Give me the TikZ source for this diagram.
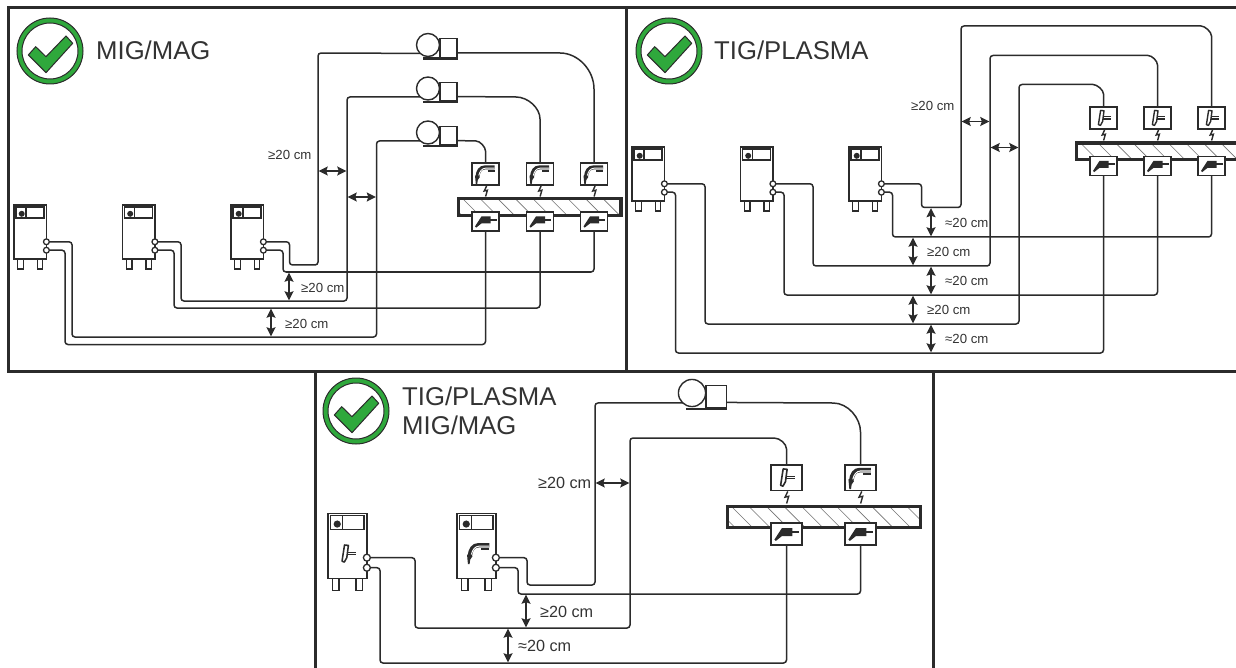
\documentclass[tikz,border=0pt]{standalone}
\usepackage{fontspec}
\setmainfont{Liberation Sans}
\usetikzlibrary{arrows.meta}
\definecolor{ink}{HTML}{2B2B2B}
\definecolor{okgreen}{HTML}{2FA83C}
\definecolor{txt}{HTML}{333333}
\tikzset{
  panelframe/.style={draw=ink,line width=3pt},
  cable/.style={draw=ink,line width=1.5pt,rounded corners=3pt},
  gap/.style={draw=ink,line width=1.8pt,{Stealth[length=9pt,width=9pt,inset=1.5pt]}-{Stealth[length=9pt,width=9pt,inset=1.5pt]}},
  box/.style={draw=ink,fill=white,inner sep=0pt,outer sep=0pt,line width=1.6pt},
  smalllabel/.style={text=txt,inner sep=0pt,anchor=west,font=\fontsize{13.2}{15}\selectfont},
  biglabel/.style={text=txt,inner sep=0pt,anchor=west,font=\fontsize{16.2}{18}\selectfont},
  titlelabel/.style={text=txt,inner sep=0pt,anchor=base west,font=\fontsize{25.7}{30}\selectfont},
}
% check badge
\newcommand\okbadge[3]{%
  \begin{scope}[shift={(#1,#2)}]
    \node[circle,draw=ink,fill=okgreen,line width=1pt,minimum size=66pt,inner sep=0pt] (#3) at (0,0) {};
    \node[circle,draw=ink,fill=white,line width=1pt,minimum size=56pt,inner sep=0pt] at (0,0) {};
    \draw[draw=ink,fill=okgreen,line width=1pt,line join=round] (-21.7,4) -- (-4,21.7) -- (22.7,-7.7) -- (16,-15) -- (-4,5.7) -- (-14.3,-4.3) -- cycle;
  \end{scope}}
% MIG torch icon, origin = top-left of a 27x22 cell
\newcommand\migicon[1]{%
  \draw[ink,line width={4pt*#1},line cap=butt] (22.5,4.4) -- (13,4.4) .. controls (8.5,4.4) and (6,8) .. (5.4,14);
  \draw[white,line width={0.9pt*#1}] (22.7,5.2) -- (13.4,5.2) .. controls (10,5.4) and (7.8,8.2) .. (6.8,12.5);
  \fill[ink] (3,12.5) -- (7.8,14) -- (5.8,17) -- (5.2,21) -- (3.8,21) -- cycle;
  \draw[ink,line width={1.8pt*#1}] (15.5,8) -- (22.7,8);}
% TIG torch icon
\newcommand\tigicon[1]{%
  \draw[ink,line width={1.4pt*#1},line join=round,fill=white] (10.6,3.4) -- (14,3.8) -- (12.6,14.5) -- (10.4,18.4) -- (8.4,17.6) -- cycle;
  \draw[ink,line width={1.2pt*#1}] (13,9.8) -- (21,9.8);
  \draw[ink,line width={1.2pt*#1}] (13,12) -- (21,12);}
% welding machine: name, left, top, scale, extra icon
\newcommand\welder[5]{%
  \begin{scope}[shift={(#2,#3)},scale=#4]
    \draw[ink,line width=1.4pt,fill=white] (3.7,54) rectangle (9.3,64);
    \draw[ink,line width=1.4pt,fill=white] (23.3,54) rectangle (28.7,64);
    \node[box,minimum width={32.5pt*#4},minimum height={54pt*#4}] (#1) at (16.25,27) {};
    \draw[ink,line width=1.6pt] (2,1.8) rectangle (30,13.2);
    \draw[ink,line width=1.6pt] (12,1.8) -- (12,13.2);
    \fill[ink] (7.7,8.8) circle (3);
    #5
    \node[circle,box,line width=1.3pt,minimum size={5.8pt*#4}] (#1u) at (32.4,36.8) {};
    \node[circle,box,line width=1.3pt,minimum size={5.8pt*#4}] (#1l) at (32.4,45.2) {};
  \end{scope}}
% wire feeder: name, circle centre x, y, scale
\newcommand\feeder[4]{%
  \begin{scope}[shift={(#2,#3)},scale=#4]
    \draw[ink,line width=2.8pt] (-5,13.5) -- (29.5,13.5);
    \node[circle,box,line width=1.4pt,minimum size={23pt*#4}] (#1c) at (0,0) {};
    \node[box,line width=1.4pt,minimum width={17pt*#4},minimum height={18.5pt*#4}] (#1b) at (20.5,3) {};
    \coordinate (#1o) at (29,8);
  \end{scope}}
% torch box: name, centre x, top, scale, icon
\newcommand\torchbox[5]{%
  \begin{scope}[shift={(#2-13.5*#4,#3)},scale=#4]
    \node[box,minimum width={27pt*#4},minimum height={22pt*#4}] (#1) at (13.5,11) {};
    #5
    \draw[ink,line width=1.4pt,line join=miter] (14.6,23) -- (12.2,28) -- (15.4,27.2) -- (13.6,33.5);
  \end{scope}}
% clamp box: name, centre x, top, scale
\newcommand\clampbox[4]{%
  \begin{scope}[shift={(#2-13.5*#4,#3)},scale=#4]
    \node[box,minimum width={27pt*#4},minimum height={19pt*#4}] (#1) at (13.5,9.5) {};
    \fill[ink] (9.5,4.4) -- (18.5,4.4) -- (18.5,11.4) -- (9.5,11.4) -- (4.2,15.6) -- (3,14.4) -- cycle;
    \draw[ink,line width={1.9pt*#4}] (18,7.6) -- (24.5,7.6);
  \end{scope}}
% workpiece bar: name, x1, y1, x2, y2
\newcommand\workbar[5]{%
  \node[draw=ink,line width=3.4pt,fill=white,inner sep=0pt,outer sep=0pt,anchor=north west,minimum width={(#4-#2)*1pt},minimum height={(#5-#3)*1pt}] (#1) at (#2,#3) {};
  \begin{scope}
    \clip (#2,#3) rectangle (#4,#5);
    \foreach \k in {-2,...,14} {
      \draw[black!55,line width=0.6pt] ({#2+\k*17.55+4},#3) -- ++(30,30);
    }
  \end{scope}
  \draw[ink,line width=3.4pt] (#2,#3) rectangle (#4,#5);}
% spacing arrow between two named ends
\newcommand\gaparrow[5]{%
  \coordinate (#1a) at (#2,#3);
  \coordinate (#1b) at (#4,#5);
  \draw[gap] (#1a) -- (#1b);}
\begin{document}
\begin{tikzpicture}[x=1pt,y=-1pt]
\useasboundingbox (0,0) rectangle (1236,668);
\clip (0,0) rectangle (1236,668);

% ---------- panel frames
\draw[panelframe] (8.5,8) rectangle (626,371);
\draw[panelframe] (626,8) rectangle (1245,371);
\draw[panelframe] (315.5,371) rectangle (933.5,690);

% ---------- panel 1: MIG/MAG
\okbadge{50}{51}{okA}
\node[titlelabel] (titleA) at (96,60) {MIG/MAG};
\welder{wa}{14}{205}{1}{}
\welder{wb}{122.5}{205}{1}{}
\welder{wc}{231}{205}{1}{}
\feeder{fa}{428}{45}{1}
\feeder{fb}{428}{88.5}{1}
\feeder{fc}{428}{132.5}{1}
\workbar{barA}{458.5}{198.5}{621}{215.5}
\torchbox{ta}{485.5}{163}{1}{\migicon{1}}
\torchbox{tb}{540}{163}{1}{\migicon{1}}
\torchbox{tc}{594}{163}{1}{\migicon{1}}
\clampbox{ca}{485.5}{212}{1}
\clampbox{cb}{540}{212}{1}
\clampbox{cc}{594}{212}{1}

\draw[cable] (wau.east) -- (72,241.8) -- (72,337) -- (376.5,337) -- (376.5,141) -- (fcc.227);
\draw[cable] (wal.east) -- (65,250.2) -- (65,344.5) -- (485.5,344.5) -- (ca.south);
\draw[cable] (wbu.east) -- (181,241.8) -- (181,301) -- (347,301) -- (347,97) -- (fbc.227);
\draw[cable] (wbl.east) -- (174,250.2) -- (174,308) -- (540,308) -- (cb.south);
\draw[cable] (wcu.east) -- (289.5,241.8) -- (289.5,265) -- (318,265) -- (318,53) -- (fac.227);
\draw[cable] (wcl.east) -- (283,250.2) -- (283,272) -- (594,272) -- (cc.south);
\draw[cable] (fao) -- (557,53) .. controls (578,53) and (594,70) .. (594,92) -- (tc.north);
\draw[cable] (fbo) -- (513,97) .. controls (528,97) and (540,108) .. (540,122) -- (tb.north);
\draw[cable] (fco) -- (473,141) .. controls (480,141) and (485.5,147) .. (485.5,154) -- (ta.north);

\gaparrow{ha}{318.7}{171}{346.3}{171}
\gaparrow{hb}{347.7}{197}{375.8}{197}
\gaparrow{va}{289}{272.7}{289}{300.3}
\gaparrow{vb}{271}{308.7}{271}{336.3}
\node[smalllabel] (la) at (268,155) {≥20 cm};
\node[smalllabel] (lb) at (301,288) {≥20 cm};
\node[smalllabel] (lc) at (285,324) {≥20 cm};

% ---------- panel 2: TIG/PLASMA
\okbadge{669}{51}{okB}
\node[titlelabel] (titleB) at (714,60) {TIG/PLASMA};
\welder{wd}{632}{147}{1}{}
\welder{we}{740.5}{147}{1}{}
\welder{wf}{849}{147}{1}{}
\workbar{barB}{1076.5}{143}{1250}{159.5}
\torchbox{td}{1103.5}{107}{1}{\tigicon{1}}
\torchbox{te}{1157.5}{107}{1}{\tigicon{1}}
\torchbox{tf}{1211.5}{107}{1}{\tigicon{1}}
\clampbox{cd}{1103.5}{156.5}{1}
\clampbox{ce}{1157.5}{156.5}{1}
\clampbox{cf}{1211.5}{156.5}{1}

\draw[cable] (wdu.east) -- (705,183.8) -- (705,324) -- (1019,324) -- (1019,84.5) -- (1090,84.5) .. controls (1097,84.5) and (1103.5,90) .. (1103.5,97) -- (td.north);
\draw[cable] (wdl.east) -- (675.5,192.2) -- (675.5,353) -- (1103.5,353) -- (cd.south);
\draw[cable] (weu.east) -- (813,183.8) -- (813,266) -- (990,266) -- (990,55.5) -- (1145,55.5) .. controls (1152,55.5) and (1157.5,61) .. (1157.5,68) -- (te.north);
\draw[cable] (wel.east) -- (784,192.2) -- (784,295) -- (1157.5,295) -- (ce.south);
\draw[cable] (wfu.east) -- (921.5,183.8) -- (921.5,207.5) -- (961,207.5) -- (961,26) -- (1198,26) .. controls (1205,26) and (1211.5,32) .. (1211.5,39) -- (tf.north);
\draw[cable] (wfl.east) -- (892.5,192.2) -- (892.5,237) -- (1211.5,237) -- (cf.south);

\gaparrow{hc}{961.7}{121.5}{989.3}{121.5}
\gaparrow{hd}{990.7}{147.5}{1018.3}{147.5}
\gaparrow{vc}{931}{208.2}{931}{236.3}
\gaparrow{vd}{913}{237.7}{913}{265.3}
\gaparrow{ve}{931}{266.7}{931}{294.3}
\gaparrow{vf}{913}{295.7}{913}{323.3}
\gaparrow{vg}{931}{324.7}{931}{352.3}
\node[smalllabel] (ld) at (911,106) {≥20 cm};
\node[smalllabel] (le) at (945,223) {≈20 cm};
\node[smalllabel] (lf) at (927,252) {≥20 cm};
\node[smalllabel] (lg) at (945,281) {≈20 cm};
\node[smalllabel] (lh) at (927,310) {≥20 cm};
\node[smalllabel] (li) at (945,339) {≈20 cm};

% ---------- panel 3: TIG/PLASMA + MIG/MAG
\okbadge{356}{411}{okC}
\node[titlelabel] (titleC) at (402,405) {TIG/PLASMA};
\node[titlelabel] (titleD) at (402,434) {MIG/MAG};
\welder{wg}{328}{513.5}{1.2}{\begin{scope}[shift={(3.7,23)},scale=0.95]\tigicon{1.1}\end{scope}}
\welder{wh}{457}{513.5}{1.2}{\begin{scope}[shift={(5.5,22.3)},scale=0.95]\migicon{1.1}\end{scope}}
\feeder{fd}{692}{393}{1.18}
\workbar{barC}{727.7}{506.7}{920.5}{527.5}
\torchbox{tg}{786.5}{465}{1.15}{\tigicon{1.15}}
\torchbox{th}{860.5}{465}{1.15}{\migicon{1.15}}
\clampbox{cg}{786.5}{523}{1.15}
\clampbox{ch}{860.5}{523}{1.15}

\draw[cable] (wgu.east) -- (415,557.7) -- (415,628) -- (630,628) -- (630,438) -- (771,438) .. controls (780,438) and (786.5,444) .. (786.5,452) -- (tg.north);
\draw[cable] (wgl.east) -- (380,567.7) -- (380,663) -- (786.5,663) -- (cg.south);
\draw[cable] (whu.east) -- (527,557.7) -- (527,585) -- (595,585) -- (595,403) -- (fdc.227);
\draw[cable] (whl.east) -- (518,567.7) -- (518,594) -- (860.5,594) -- (ch.south);
\draw[cable] (fdo) -- (830,403) .. controls (848,403) and (860.5,418) .. (860.5,435) -- (th.north);

\gaparrow{he}{595.7}{483}{629.3}{483}
\gaparrow{vh}{526}{594.7}{526}{627.3}
\gaparrow{vi}{508}{628.7}{508}{662.3}
\node[biglabel] (lj) at (538,483) {≥20 cm};
\node[biglabel] (lk) at (540,612) {≥20 cm};
\node[biglabel] (ll) at (518,646) {≈20 cm};
\end{tikzpicture}
\end{document}
